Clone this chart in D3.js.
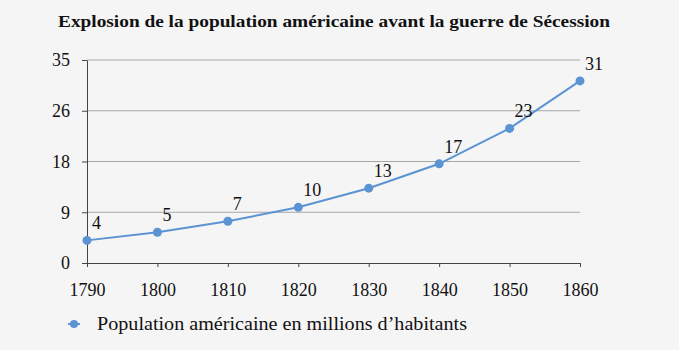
<!DOCTYPE html>
<html>
<head>
<meta charset="utf-8">
<script src="https://cdn.jsdelivr.net/npm/d3@7"></script>
<style>
  body { margin: 0; background: #f5f5f5; }
  svg { display: block; }
  text { font-family: "Liberation Serif", serif; fill: #111; }
</style>
</head>
<body>
<script>
(function (d3) {
  'use strict';

  // data
  const years = [1790, 1800, 1810, 1820, 1830, 1840, 1850, 1860];
  const population = [3.9, 5.3, 7.2, 9.6, 12.9, 17.1, 23.2, 31.4];
  const yTicks = [0, 8.75, 17.5, 26.25, 35];
  const title = "Explosion de la population américaine avant la guerre de Sécession";
  const seriesName = "Population américaine en millions d\u2019habitants";

  const W = 679, H = 350;
  const margin = {top: 60, right: 99, bottom: 87, left: 87};
  const w = W - margin.left - margin.right,
        h = H - margin.top - margin.bottom;
  const blue = "#5b93d3";

  const svg = d3.select("body").append("svg")
      .attr("width", W).attr("height", H);

  svg.append("text")
      .attr("x", 334).attr("y", 27)
      .attr("text-anchor", "middle")
      .attr("font-weight", "bold")
      .attr("font-size", 17)
      .attr("textLength", 552)
      .attr("lengthAdjust", "spacingAndGlyphs")
      .text(title);

  const g = svg.append("g")
      .attr("transform", `translate(${margin.left},${margin.top})`);

  const x = d3.scalePoint().domain(years).range([0, w]);
  const y = d3.scaleLinear().domain([0, 35]).range([h, 0]);

  // gridlines
  g.append("g")
    .selectAll("line")
    .data(yTicks.slice(1))
    .join("line")
      .attr("x1", 0).attr("x2", w)
      .attr("y1", d => y(d)).attr("y2", d => y(d))
      .attr("stroke", "#a6a6a6");

  // y axis
  const yAxis = g.append("g")
    .call(d3.axisLeft(y).tickValues(yTicks).tickSize(5).tickSizeOuter(0)
      .tickFormat(d => Math.round(d)));
  yAxis.select(".domain").attr("stroke", "#444");
  yAxis.selectAll(".tick line").attr("stroke", "#444");
  yAxis.selectAll(".tick text")
      .attr("x", -17).attr("font-size", 18);

  // x axis
  const xAxis = g.append("g")
    .attr("transform", `translate(0,${h})`)
    .call(d3.axisBottom(x).tickSize(4).tickSizeOuter(0));
  xAxis.select(".domain").attr("stroke", "#444");
  xAxis.selectAll(".tick line").attr("stroke", "#444");
  xAxis.selectAll(".tick text")
      .attr("y", 20).attr("font-size", 18);

  const data = years.map((yr, i) => ({year: yr, value: population[i]}));

  g.append("path")
    .datum(data)
    .attr("fill", "none")
    .attr("stroke", blue)
    .attr("stroke-width", 2)
    .attr("d", d3.line().x(d => x(d.year)).y(d => y(d.value)));

  g.selectAll("circle.pt")
    .data(data)
    .join("circle")
      .attr("class", "pt")
      .attr("cx", d => x(d.year))
      .attr("cy", d => y(d.value))
      .attr("r", 4.5)
      .attr("fill", blue);

  g.selectAll("text.lbl")
    .data(data)
    .join("text")
      .attr("class", "lbl")
      .attr("x", d => x(d.year) + 5)
      .attr("y", d => y(d.value) - 11)
      .attr("font-size", 18)
      .text(d => Math.round(d.value));

  // legend
  const lg = svg.append("g").attr("transform", "translate(74,324)");
  lg.append("line").attr("x1", -6).attr("x2", 6)
      .attr("stroke", blue).attr("stroke-width", 2);
  lg.append("circle").attr("r", 4).attr("fill", blue);
  lg.append("text")
      .attr("x", 23).attr("y", 6)
      .attr("font-size", 18)
      .attr("textLength", 370)
      .attr("lengthAdjust", "spacingAndGlyphs")
      .text(seriesName);
}(d3));
</script>
</body>
</html>
